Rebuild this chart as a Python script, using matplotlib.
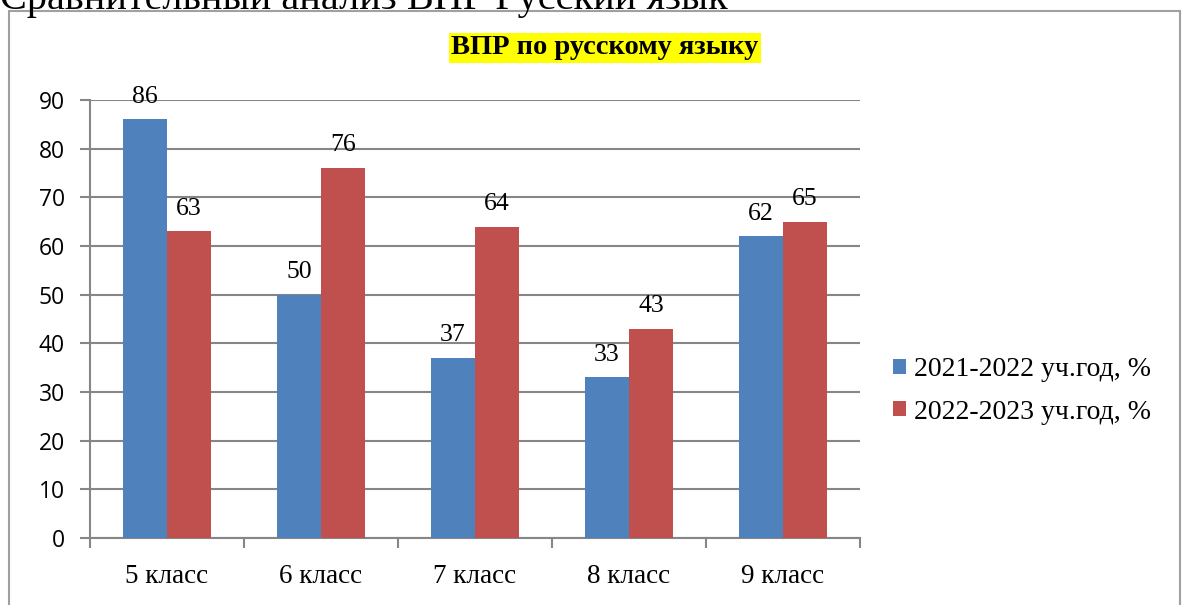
import numpy as np
import matplotlib.pyplot as plt
from matplotlib.patches import Rectangle

# --- DATA ---
classes = ['5 класс', '6 класс', '7 класс', '8 класс', '9 класс']
year_2122 = [86, 50, 37, 33, 62]
year_2223 = [63, 76, 64, 43, 65]
series_names = ['2021-2022 уч.год, %', '2022-2023 уч.год, %']
y_ticks = [0, 10, 20, 30, 40, 50, 60, 70, 80, 90]

BLUE = '#4F81BD'
RED = '#C0504D'
GRID = '#868686'
SERIF = 'Liberation Serif'

fig = plt.figure(figsize=(11.87, 6.05), dpi=100)
ax = fig.add_axes([90 / 1187, 1 - 538 / 605, 770 / 1187, 438 / 605])

x = np.arange(len(classes))
w = 0.286
b1 = ax.bar(x - w / 2, year_2122, w, color=BLUE, label=series_names[0], zorder=3)
b2 = ax.bar(x + w / 2, year_2223, w, color=RED, label=series_names[1], zorder=3)

for bars, vals in ((b1, year_2122), (b2, year_2223)):
    for bar, v in zip(bars, vals):
        ax.annotate(str(v), (bar.get_x() + bar.get_width() / 2, v),
                    xytext=(0, 12), textcoords='offset points',
                    ha='center', va='baseline', fontsize=18.5, family=SERIF, zorder=4)

ax.set_xlim(-0.5, len(classes) - 0.5)
ax.set_ylim(0, 90)
ax.set_yticks(y_ticks)
ax.set_yticklabels([str(t) for t in y_ticks], family='Open Sans', fontsize=16.5)
ax.yaxis.grid(True, color=GRID, linewidth=1.5, zorder=0)
ax.tick_params(axis='y', length=7, width=1.5, color=GRID, direction='out', pad=11)

ax.set_xticks(x)
ax.set_xticklabels(classes, family=SERIF, fontsize=19.5)
ax.tick_params(axis='x', length=0, pad=19)
ax.set_xticks(np.arange(len(classes) + 1) - 0.5, minor=True)
ax.tick_params(axis='x', which='minor', length=7, width=1.5, color=GRID, direction='out')

for s in ('top', 'right'):
    ax.spines[s].set_visible(False)
for s in ('left', 'bottom'):
    ax.spines[s].set_color(GRID)
    ax.spines[s].set_linewidth(1.5)

# title with yellow highlight
fig.text(605 / 1187, 1 - 48 / 605, 'ВПР по русскому языку', ha='center', va='center',
         fontsize=20.5, fontweight='bold', family=SERIF,
         bbox=dict(boxstyle='square,pad=0.08', facecolor='#FFFF00', edgecolor='none'))

# legend
fig.legend(handles=[b1, b2], loc='center left', bbox_to_anchor=(868 / 1187, 1 - 391 / 605),
           frameon=False, prop={'family': SERIF, 'size': 20}, handlelength=0.45,
           handleheight=0.45, handletextpad=0.3, labelspacing=0.62)

# outer frame and clipped heading from the document
fig.patches.append(Rectangle((9 / 1187, -0.05), 1171 / 1187, 1.05 - 11 / 605,
                             transform=fig.transFigure, fill=False,
                             edgecolor='#A0A0A0', linewidth=1.5))
fig.text(0.0, 1 - 9 / 605, 'Сравнительный анализ ВПР Русский язык', ha='left', va='baseline',
         fontsize=29, family=SERIF)

fig.savefig('out.png', dpi=100)
